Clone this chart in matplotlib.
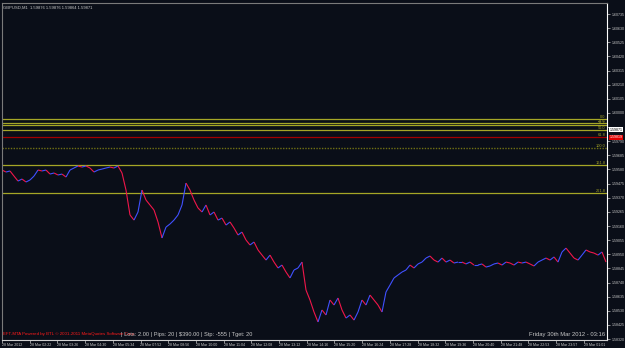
import matplotlib
matplotlib.use('Agg')
import matplotlib.pyplot as plt
import numpy as np
from matplotlib.collections import LineCollection

closes = [
    1.59576, 1.59561, 1.59569, 1.59531, 1.59494, 1.59509, 1.59487, 1.59502, 1.59531, 1.59576,
    1.59569, 1.59576, 1.59546, 1.59554, 1.59539, 1.59546, 1.59524, 1.59576, 1.59591, 1.59606,
    1.59598, 1.59606, 1.59591, 1.59561, 1.59576, 1.59583, 1.59591, 1.59598, 1.59591, 1.59606,
    1.59554, 1.59427, 1.59242, 1.59204, 1.59264, 1.59427, 1.59353, 1.59316, 1.59279, 1.59190,
    1.59071, 1.59152, 1.59175, 1.59204, 1.59242, 1.59316, 1.59479, 1.59427, 1.59353, 1.59294,
    1.59264, 1.59316, 1.59242, 1.59264, 1.59204, 1.59219, 1.59167, 1.59190, 1.59145, 1.59093,
    1.59115, 1.59056, 1.59019, 1.59041, 1.58982, 1.58944, 1.58907, 1.58944, 1.58892, 1.58848,
    1.58870, 1.58818, 1.58774, 1.58833, 1.58848, 1.58892, 1.58684, 1.58610, 1.58521, 1.58447,
    1.58536, 1.58499, 1.58610, 1.58573, 1.58625, 1.58536, 1.58476, 1.58499, 1.58461, 1.58521,
    1.58610, 1.58573, 1.58647, 1.58610, 1.58573, 1.58521, 1.58670, 1.58721, 1.58774, 1.58796,
    1.58818, 1.58833, 1.58870, 1.58848, 1.58878, 1.58892, 1.58922, 1.58937, 1.58907, 1.58892,
    1.58922, 1.58892, 1.58907, 1.58885, 1.58892, 1.58892, 1.58878, 1.58892, 1.58870, 1.58870,
    1.58878, 1.58855, 1.58863, 1.58878, 1.58885, 1.58870, 1.58892, 1.58885, 1.58870, 1.58892,
    1.58885, 1.58892, 1.58878, 1.58863, 1.58892, 1.58907, 1.58922, 1.58907, 1.58930, 1.58892,
    1.58967, 1.58996, 1.58959, 1.58922, 1.58907, 1.58944, 1.58982, 1.58967, 1.58959, 1.58944,
    1.58967, 1.58892,
]

time_labels = ['28 Mar 2012', '28 Mar 02:22', '28 Mar 03:26', '28 Mar 04:30', '28 Mar 05:34',
               '28 Mar 07:52', '28 Mar 08:56', '28 Mar 10:00', '28 Mar 11:04', '28 Mar 12:08',
               '28 Mar 13:12', '28 Mar 14:16', '28 Mar 15:20', '28 Mar 16:24', '28 Mar 17:28',
               '28 Mar 18:32', '28 Mar 19:36', '28 Mar 20:40', '28 Mar 21:48', '28 Mar 22:53',
               '28 Mar 23:57', '29 Mar 01:01']
label_every = 6.925  # bars between time labels

price_ticks = [1.60735 - 0.00105 * k for k in range(24)]

fib_prices = [1.59955, 1.59929, 1.59907, 1.59877, 1.59743, 1.59613, 1.59405]
fib_labels = ['0.0', '23.6', '38.2', '50.0', '100.0', '161.8', '261.8']
red_price = 1.59821
red_label = '61.8'
bid_price = 1.59877
bid_text = '1.59871'
ask_text = '1.59819'

bg = '#0a0e18'
txt = '#c8c8c8'
fib_col = '#a6a626'
fnt = 'Liberation Sans'
ymin, ymax = 1.58313, 1.60817

fig = plt.figure(figsize=(6.25, 3.48), dpi=100, facecolor=bg)
ax = fig.add_axes([2 / 625, 8 / 348, 605 / 625, 337 / 348])
ax.set_facecolor(bg)

n = len(closes)
ax.set_xlim(0, 151.25)
ax.set_ylim(ymin, ymax)

# fibonacci levels
for p, lab in zip(fib_prices, fib_labels):
    if lab == '100.0':
        ax.axhline(p, color='#707014', lw=1, ls=(0, (1, 1)))
    else:
        ax.axhline(p, color=fib_col, lw=0.9)
    ax.text(150.9, p, lab, color=fib_col, fontsize=2.8, ha='right', va='bottom', family=fnt)
ax.axhline(red_price, color='#a00000', lw=0.9)
ax.text(150.9, red_price, red_label, color=fib_col, fontsize=2.8, ha='right', va='bottom',
        family=fnt)

# price bars, blue up / red down
x = np.arange(n)
y = np.array(closes)
segs = [[(x[i - 1], y[i - 1]), (x[i], y[i])] for i in range(1, n)]
cols = ['#4050ff' if y[i] >= y[i - 1] else '#f0164a' for i in range(1, n)]
ax.add_collection(LineCollection(segs, colors=cols, linewidths=0.8))

# axes styling
for s in ['top', 'left']:
    ax.spines[s].set_color('#7a7a7a')
ax.spines['right'].set_color('white')
ax.spines['bottom'].set_color('#d0d0d0')
for s in ax.spines.values():
    s.set_linewidth(0.8)

# the bid box covers the nearest price label, as on the terminal
ylabels = ['' if abs(p - bid_price) < 0.0004 else '%.5f' % p for p in price_ticks]
ax.yaxis.tick_right()
ax.set_yticks(price_ticks)
ax.set_yticklabels(ylabels, family=fnt)
ax.tick_params(axis='y', colors=txt, labelsize=2.6, length=2, width=0.5, pad=1.2)

xt = [label_every * k for k in range(len(time_labels))]
ax.set_xticks(xt)
ax.set_xticklabels(time_labels, family=fnt, ha='left')
ax.tick_params(axis='x', colors=txt, labelsize=2.6, length=2, width=0.5, pad=0.5)

# bid / ask boxes on price scale
ax.text(1.004, (bid_price - ymin) / (ymax - ymin), bid_text, transform=ax.transAxes,
        fontsize=2.6, color='black', va='center', ha='left', family=fnt,
        bbox=dict(boxstyle='square,pad=0.15', fc='white', ec='none'))
ax.text(1.004, (red_price - ymin) / (ymax - ymin), ask_text, transform=ax.transAxes,
        fontsize=2.6, color='white', va='center', ha='left', family=fnt,
        bbox=dict(boxstyle='square,pad=0.15', fc='#e00000', ec='none'))

# header and footer texts
ax.text(0.002, 0.993, 'GBPUSD,M1  1.59876 1.59876 1.59864 1.59871', transform=ax.transAxes,
        color=txt, fontsize=3.0, va='top', ha='left', family=fnt)
ax.text(0.002, 0.012, 'EFT-MTA Powered by BTL \u00a9 2001-2011 MetaQuotes Software Corp.',
        transform=ax.transAxes, color='#ff1a1a', fontsize=3.2, va='bottom', ha='left',
        family=fnt)
ax.text(0.196, 0.008, '| Lots: 2.00 | Pips: 20 | $390.00 | Stp: -555 | Tget: 20',
        transform=ax.transAxes, color=txt, fontsize=4.1, va='bottom', ha='left', family=fnt)
ax.text(0.997, 0.008, 'Friday 30th Mar 2012 - 03:16', transform=ax.transAxes,
        color=txt, fontsize=4.2, va='bottom', ha='right', family=fnt)

fig.savefig('out.png', dpi=100, facecolor=bg)
